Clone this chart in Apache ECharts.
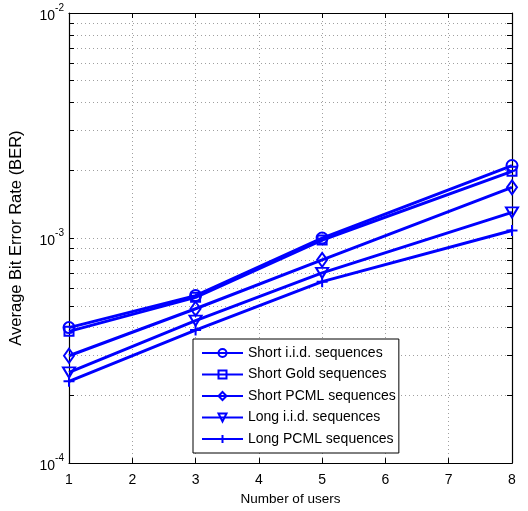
<!DOCTYPE html>
<html>
<head>
<meta charset="utf-8">
<script src="https://cdn.jsdelivr.net/npm/echarts@6/dist/echarts.min.js"></script>
<style>
html,body{margin:0;padding:0;background:#fff;}
#chart{width:528px;height:511px;}
</style>
</head>
<body>
<div id="chart"></div>
<script>
// ---- data ----
const users = [1, 3, 5, 8];
const shortIid  = [4.0e-4, 5.55e-4, 1.0e-3, 2.10e-3];
const shortGold = [3.85e-4, 5.45e-4, 0.98e-3, 1.98e-3];
const shortPcml = [3.0e-4, 4.85e-4, 0.80e-3, 1.68e-3];
const longIid   = [2.53e-4, 4.3e-4, 0.70e-3, 1.30e-3];
const longPcml  = [2.31e-4, 3.9e-4, 0.64e-3, 1.08e-3];
const seriesNames = ['Short i.i.d. sequences', 'Short Gold sequences', 'Short PCML sequences', 'Long i.i.d. sequences', 'Long PCML sequences'];
const xTicks = [1, 2, 3, 4, 5, 6, 7, 8];
const yMajor = [1e-4, 1e-3, 1e-2];
const yMinor = [2e-4, 3e-4, 4e-4, 5e-4, 6e-4, 7e-4, 8e-4, 9e-4, 2e-3, 3e-3, 4e-3, 5e-3, 6e-3, 7e-3, 8e-3, 9e-3];

const BLUE = '#0000ff';
const FONT = 'Liberation Sans';
const gridLine = {color: '#a0a0a0', width: 1, type: [1, 3]};

const symbols = [
  {symbol: 'circle', size: 11},
  {symbol: 'rect', size: 9},
  {symbol: 'diamond', size: [10, 14]},
  {symbol: 'path://M0,0 L10,0 L5,9 Z', size: [12, 10]},
  {symbol: 'path://M5,0 L5,10 M0,5 L10,5', size: 11}
];
const allData = [shortIid, shortGold, shortPcml, longIid, longPcml];

const series = allData.map((vals, i) => ({
  name: seriesNames[i],
  type: 'line',
  data: users.map((u, k) => [u, vals[k]]),
  symbol: symbols[i].symbol,
  symbolSize: symbols[i].size,
  showAllSymbol: true,
  lineStyle: {color: BLUE, width: 3},
  itemStyle: {color: 'rgba(255,255,255,0)', borderColor: BLUE, borderWidth: 2},
  emphasis: {disabled: true},
  z: 5 + i
}));

function supLabel(v) {
  const e = Math.round(Math.log10(v));
  return '{b|10}{s|' + e + '}';
}
const richLbl = {
  b: {fontFamily: FONT, fontSize: 14, color: '#000', verticalAlign: 'bottom', lineHeight: 20},
  s: {fontFamily: FONT, fontSize: 10, color: '#000', verticalAlign: 'top', lineHeight: 20, padding: [0, 0, 10, 0]}
};
const allYTicks = yMajor.concat(yMinor).sort((a, b) => a - b);

const option = {
  animation: false,
  backgroundColor: '#fff',
  grid: {left: 64, right: 16, top: 13, bottom: 46, containLabel: false},
  xAxis: [{
    type: 'value', min: 1, max: 8, interval: 1,
    name: 'Number of users', nameLocation: 'middle', nameGap: 28,
    nameTextStyle: {fontFamily: FONT, fontSize: 13.5, color: '#000'},
    axisLine: {show: true, lineStyle: {color: '#000', width: 1.2}},
    axisTick: {show: true, inside: true, length: 5, lineStyle: {color: '#000'}},
    axisLabel: {fontFamily: FONT, fontSize: 14, color: '#000', margin: 10,
      formatter: v => xTicks.includes(v) ? String(v) : ''},
    splitLine: {show: true, lineStyle: gridLine}
  }, {
    type: 'value', min: 1, max: 8, interval: 1, position: 'top',
    axisLine: {show: true, onZero: false, lineStyle: {color: '#000', width: 1.2}},
    axisTick: {show: true, inside: true, length: 5, lineStyle: {color: '#000'}},
    axisLabel: {show: false}, splitLine: {show: false}
  }],
  yAxis: [{
    type: 'log', logBase: 10, min: 1e-4, max: 1e-2,
    name: 'Average Bit Error Rate (BER)', nameLocation: 'middle', nameGap: 44,
    nameTextStyle: {fontFamily: FONT, fontSize: 16.5, color: '#000'},
    axisLine: {show: true, lineStyle: {color: '#000', width: 1.2}},
    axisTick: {show: true, inside: true, length: 5, lineStyle: {color: '#000'}, customValues: allYTicks},
    axisLabel: {margin: 5, formatter: v => supLabel(v), rich: richLbl, customValues: yMajor},
    splitLine: {show: true, lineStyle: gridLine}
  }, {
    type: 'log', logBase: 10, min: 1e-4, max: 1e-2, position: 'right',
    axisLine: {show: true, onZero: false, lineStyle: {color: '#000', width: 1.2}},
    axisTick: {show: true, inside: true, length: 5, lineStyle: {color: '#000'}, customValues: allYTicks},
    axisLabel: {show: false}, splitLine: {show: false}
  }],
  legend: {
    orient: 'vertical', left: 193, top: 339,
    data: seriesNames,
    backgroundColor: '#fff', borderColor: '#000', borderWidth: 1,
    padding: [7, 3, 7, 8],
    itemWidth: 41, itemHeight: 10, itemGap: 7.5,
    textStyle: {fontFamily: FONT, fontSize: 14, color: '#000'},
    selectedMode: false
  },
  series: series
};

const chart = echarts.init(document.getElementById('chart'), null, {renderer: 'canvas'});
chart.setOption(option);
</script>
</body>
</html>
